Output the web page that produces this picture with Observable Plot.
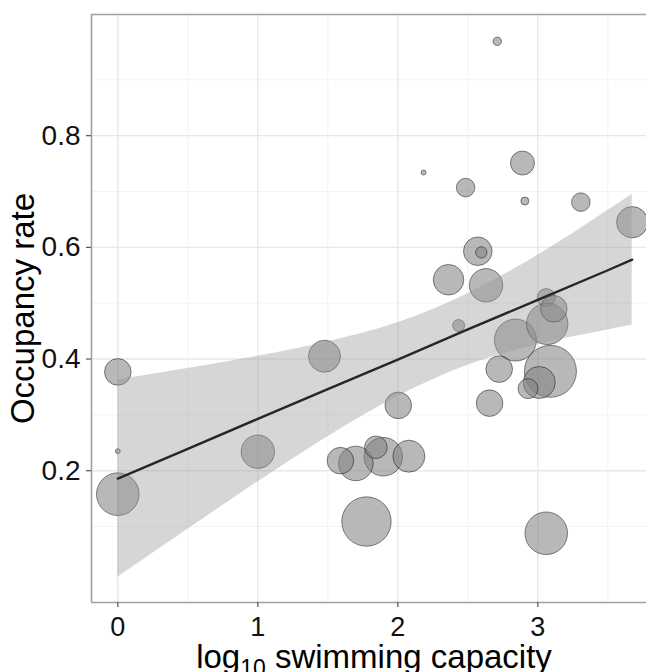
<!DOCTYPE html>
<html><head><meta charset="utf-8">
<script src="https://cdn.jsdelivr.net/npm/d3@7"></script>
<script src="https://cdn.jsdelivr.net/npm/@observablehq/plot@0.6"></script>
<style>
html,body{margin:0;padding:0;background:#fff;}
#chart{width:646px;height:672px;overflow:hidden;}
</style></head><body><div id="chart"></div>
<script>
// log10 swimming capacity, occupancy rate, point size (relative sample weight)
const swim = [3.06, 3.09, 1.776, 0, 3.06, 2.84, 3.067, 1.896, 1.70, 1.0, 2.63, 1.476, 2.079, 3.01, 3.674, 2.362, 2.571, 0, 2.003, 1.59, 3.114, 2.724, 2.655, 2.89, 1.843, 2.93, 2.484, 3.307, 2.434, 2.596, 2.71, 2.907, 0, 2.184];
const occ  = [0.510, 0.378, 0.109, 0.158, 0.088, 0.434, 0.463, 0.225, 0.213, 0.234, 0.532, 0.405, 0.226, 0.358, 0.645, 0.542, 0.593, 0.377, 0.317, 0.218, 0.490, 0.382, 0.321, 0.751, 0.242, 0.347, 0.707, 0.681, 0.460, 0.591, 0.969, 0.683, 0.235, 0.734];
const size = [81, 676, 610, 454, 454, 441, 428, 372, 299, 279, 279, 256, 256, 256, 246, 234, 204, 177, 177, 177, 177, 177, 177, 144, 128, 100, 86, 86, 36, 32, 18, 16, 6, 6];

// fitted line and confidence band
const bandX   = [0, 0.5, 1, 1.5, 2, 2.5, 3, 3.5, 3.674];
const bandFit = [0.186, 0.239, 0.293, 0.346, 0.399, 0.453, 0.506, 0.559, 0.578];
const bandLo  = [0.009, 0.095, 0.180, 0.261, 0.333, 0.389, 0.426, 0.452, 0.461];
const bandHi  = [0.363, 0.383, 0.405, 0.431, 0.465, 0.517, 0.586, 0.666, 0.695];

const xTicks = [0, 1, 2, 3];
const xMinor = [0.5, 1.5, 2.5, 3.5];
const yTicks = [0.2, 0.4, 0.6, 0.8];
const yMinor = [0.1, 0.3, 0.5, 0.7, 0.9];
const xDomain = [-0.188, 3.776];
const yDomain = [-0.036, 1.017];
const xTitle = "log10 swimming capacity";
const yTitle = "Occupancy rate";

const points = swim.map((x, i) => ({x, y: occ[i], n: size[i]}));
const band = bandX.map((x, i) => ({x, fit: bandFit[i], lo: bandLo[i], hi: bandHi[i]}));

const chart = Plot.plot({
  width: 646, height: 672,
  marginLeft: 91, marginRight: 0, marginTop: 14, marginBottom: 70,
  x: {domain: xDomain, label: null},
  y: {domain: yDomain, label: null},
  r: {type: "sqrt", domain: [0, 676], range: [0, 26]},
  style: {fontFamily: "'Liberation Sans', Arial, sans-serif", background: "#fff", overflow: "hidden"},
  marks: [
    Plot.gridX(xMinor, {stroke: "#f3f3f3", strokeOpacity: 1, strokeWidth: 1}),
    Plot.gridY(yMinor, {stroke: "#f3f3f3", strokeOpacity: 1, strokeWidth: 1}),
    Plot.gridX(xTicks, {stroke: "#e8e8e8", strokeOpacity: 1, strokeWidth: 1.4}),
    Plot.gridY(yTicks, {stroke: "#e8e8e8", strokeOpacity: 1, strokeWidth: 1.4}),
    Plot.dot(points, {x: "x", y: "y", r: "n", fill: "#808080", fillOpacity: 0.56, stroke: "#000", strokeOpacity: 0.5, strokeWidth: 0.9, sort: null}),
    Plot.areaY(band, {x: "x", y1: "lo", y2: "hi", fill: "#999999", fillOpacity: 0.4, curve: "monotone-x"}),
    Plot.line(band, {x: "x", y: "fit", stroke: "#262626", strokeWidth: 2.4}),
    Plot.ruleX([xDomain[0]], {stroke: "#a0a0a0", strokeWidth: 1.6}),
    Plot.ruleY(yDomain, {stroke: "#a0a0a0", strokeWidth: 1.6}),
    Plot.axisX(xTicks, {anchor: "bottom", tickSize: 5, tickPadding: 9, stroke: "#555", strokeWidth: 1.2, fill: "#111", fontSize: 27, tickFormat: d => String(d), label: null}),
    Plot.axisY(yTicks, {anchor: "left", tickSize: 5, tickPadding: 6, stroke: "#555", strokeWidth: 1.2, fill: "#111", fontSize: 28, tickFormat: d => d.toFixed(1), label: null}),
    Plot.text([yTitle], {frameAnchor: "left", textAnchor: "middle", rotate: -90, dx: -58, lineAnchor: "bottom", fontSize: 33, fill: "#000", text: d => d}),
    Plot.text([xTitle], {frameAnchor: "bottom", textAnchor: "middle", dx: 5, dy: 65, lineAnchor: "bottom", fontSize: 33, fill: "#000", text: d => d})
  ]
});
document.getElementById("chart").appendChild(chart);

// render the subscript in the x-axis title
d3.select(chart).selectAll("text").each(function() {
  if (this.textContent === xTitle) {
    const t = d3.select(this);
    t.text(null);
    t.append("tspan").text("log");
    t.append("tspan").attr("dy", 8).attr("font-size", 23).text("10");
    t.append("tspan").attr("dy", -8).text(" swimming capacity");
  }
});
</script>
</body></html>
